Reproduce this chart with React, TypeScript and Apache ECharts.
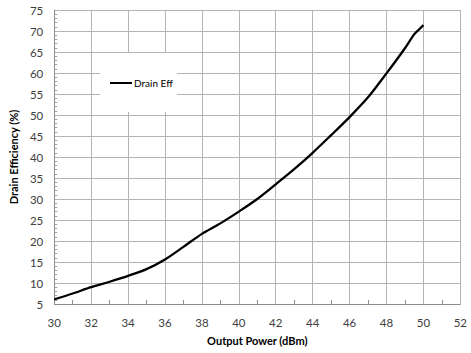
import React, { useEffect, useRef } from "react";
import * as echarts from "echarts";

const xValues = [30, 31, 32, 33, 34, 35, 36, 37, 38, 39, 40, 41, 42, 43, 44, 45, 46, 47, 48, 49, 49.5, 49.75, 50];
const drainEff = [6.1, 7.5, 9.0, 10.3, 11.7, 13.3, 15.6, 18.6, 21.7, 24.2, 27.0, 30.0, 33.5, 37.1, 41.0, 45.2, 49.5, 54.2, 59.9, 65.9, 69.2, 70.3, 71.4];
const seriesName = "Drain Eff";
const xTitle = "Output Power (dBm)";
const yTitle = "Drain Efficiency (%)";

export default function App() {
  const ref = useRef<HTMLDivElement>(null);
  useEffect(() => {
    if (!ref.current) return;
    const chart = echarts.init(ref.current, null, { renderer: "svg" });
    const font = "Lato, 'Open Sans', sans-serif";
    chart.setOption({
      animation: false,
      backgroundColor: "#ffffff",
      grid: { left: 50.6, right: 10.7, top: 10, bottom: 49, containLabel: false },
      legend: {
        left: 100,
        top: 53,
        orient: "vertical",
        backgroundColor: "#ffffff",
        padding: [25, 4, 24, 10],
        icon: "rect",
        itemWidth: 22,
        itemHeight: 2,
        itemGap: 5,
        textStyle: { fontFamily: font, fontSize: 10, color: "#000000", padding: [0, 0, 0, -3] },
        data: [{ name: seriesName, itemStyle: { color: "#000000" } }],
      },
      xAxis: {
        type: "value",
        min: 30,
        max: 52,
        interval: 2,
        name: xTitle,
        nameLocation: "middle",
        nameGap: 31,
        nameTextStyle: { fontFamily: font, fontSize: 11, fontWeight: "bold", color: "#000000" },
        axisLine: { show: true, lineStyle: { color: "#8c8c8c", width: 1 } },
        axisTick: { show: false, inside: true },
        minorTick: { show: true, splitNumber: 2, length: 4, lineStyle: { color: "#8c8c8c" } },
        axisLabel: { fontFamily: font, fontSize: 11.5, color: "#404040", margin: 12 },
        splitLine: { show: true, lineStyle: { color: "#b4b4b4", width: 1 } },
      },
      yAxis: {
        type: "value",
        min: 5,
        max: 75,
        interval: 5,
        name: yTitle,
        nameLocation: "middle",
        nameGap: 32,
        nameTextStyle: { fontFamily: font, fontSize: 11, fontWeight: "bold", color: "#000000" },
        axisLine: { show: true, lineStyle: { color: "#8c8c8c", width: 1 } },
        axisTick: { show: false, inside: true },
        minorTick: { show: true, splitNumber: 5, length: 3, lineStyle: { color: "#a0a0a0" } },
        axisLabel: { fontFamily: font, fontSize: 11.5, color: "#404040", margin: 11 },
        splitLine: { show: true, lineStyle: { color: "#b4b4b4", width: 1 } },
      },
      series: [
        {
          name: seriesName,
          type: "line",
          data: xValues.map((x, i) => [x, drainEff[i]]),
          smooth: 0.3,
          showSymbol: false,
          symbol: "none",
          lineStyle: { color: "#000000", width: 2.3 },
          itemStyle: { color: "#000000" },
        },
      ],
    });
    return () => chart.dispose();
  }, []);
  return <div ref={ref} style={{ width: 471, height: 353, position: "absolute", left: 0, top: 0 }} />;
}
